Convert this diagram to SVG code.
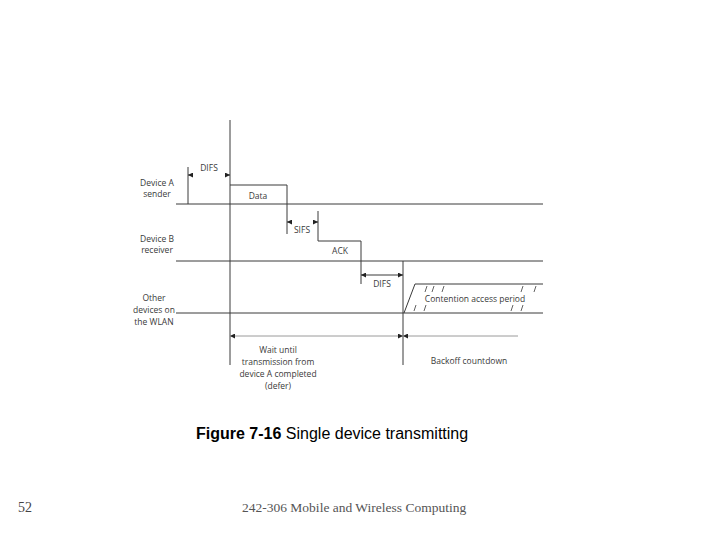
<svg xmlns="http://www.w3.org/2000/svg" width="720" height="540" viewBox="0 0 720 540">
<style>
.ln{stroke:#3a3a3a;stroke-width:1;fill:none}
.lt{stroke:#9a9a9a;stroke-width:1;fill:none}
.t{font-family:"Open Sans","DejaVu Sans",sans-serif;font-size:8.5px;fill:#3a3a3a;text-anchor:middle}
.h{stroke:#3a3a3a;stroke-width:0.8}
</style>
<defs>
<marker id="ah" viewBox="0 0 6 6" refX="6" refY="3" markerWidth="5" markerHeight="5" orient="auto-start-reverse">
<path d="M0,0 L6,3 L0,6 z" fill="#222"/>
</marker>
</defs>
<rect width="720" height="540" fill="#fff"/>
<g id="labels">
<text class="t" x="157" y="186">Device A</text>
<text class="t" x="157" y="197">sender</text>
<text class="t" x="157" y="242">Device B</text>
<text class="t" x="157" y="253">receiver</text>
<text class="t" x="154" y="301">Other</text>
<text class="t" x="154" y="313">devices on</text>
<text class="t" x="154" y="325">the WLAN</text>
</g>
<g id="timeline">
<line class="ln" x1="230" y1="120" x2="230" y2="365"/>
<line class="ln" x1="176" y1="204" x2="543" y2="204"/>
<line class="ln" x1="176" y1="261" x2="543" y2="261"/>
<line class="ln" x1="176" y1="313" x2="543" y2="313"/>
<line class="ln" x1="403" y1="261" x2="403" y2="365"/>
</g>
<g id="difs1">
<line class="ln" x1="188" y1="167" x2="188" y2="204"/>
<line class="ln" x1="188" y1="175" x2="193" y2="175" marker-start="url(#ah)"/>
<line class="ln" x1="225" y1="175" x2="230" y2="175" marker-end="url(#ah)"/>
<text class="t" x="209" y="171">DIFS</text>
</g>
<g id="data">
<polyline class="ln" points="230,185 287,185 287,234"/>
<text class="t" x="258" y="199">Data</text>
</g>
<g id="sifs">
<line class="ln" x1="318" y1="211" x2="318" y2="241"/>
<line class="ln" x1="287" y1="222" x2="292" y2="222" marker-start="url(#ah)"/>
<line class="ln" x1="313" y1="222" x2="318" y2="222" marker-end="url(#ah)"/>
<text class="t" x="302" y="233">SIFS</text>
</g>
<g id="ack">
<polyline class="ln" points="318,241 361,241 361,284"/>
<text class="t" x="340" y="254">ACK</text>
</g>
<g id="difs2">
<line class="ln" x1="361" y1="275" x2="403" y2="275" marker-start="url(#ah)" marker-end="url(#ah)"/>
<text class="t" x="382" y="287">DIFS</text>
</g>
<g id="contention">
<polyline class="ln" points="404,313 415,284 543,284"/>
<line class="h" x1="425" y1="292" x2="427" y2="286"/>
<line class="h" x1="432" y1="292" x2="434" y2="286"/>
<line class="h" x1="442" y1="292" x2="444" y2="286"/>
<line class="h" x1="521" y1="292" x2="523" y2="286"/>
<line class="h" x1="534" y1="292" x2="536" y2="286"/>
<line class="h" x1="414" y1="311" x2="416" y2="305"/>
<line class="h" x1="424" y1="311" x2="426" y2="305"/>
<line class="h" x1="511" y1="311" x2="513" y2="305"/>
<line class="h" x1="521" y1="311" x2="523" y2="305"/>
<text class="t" x="475" y="302">Contention access period</text>
</g>
<g id="wait">
<line class="lt" x1="230" y1="336" x2="403" y2="336" marker-start="url(#ah)" marker-end="url(#ah)"/>
<text class="t" x="278" y="353">Wait until</text>
<text class="t" x="278" y="365">transmission from</text>
<text class="t" x="278" y="377">device A completed</text>
<text class="t" x="278" y="389">(defer)</text>
</g>
<g id="backoff">
<line class="lt" x1="403" y1="336" x2="518" y2="336" marker-start="url(#ah)"/>
<text class="t" x="469" y="364">Backoff countdown</text>
</g>
<text x="196" y="439" font-family="Liberation Sans,Arial,sans-serif" font-size="16" fill="#000"><tspan font-weight="bold">Figure 7-16</tspan> Single device transmitting</text>
<text x="18" y="512" font-family="Liberation Serif,Times New Roman,serif" font-size="14" fill="#444">52</text>
<text x="242" y="512" font-family="Liberation Serif,Times New Roman,serif" font-size="13.5" fill="#555">242-306 Mobile and Wireless Computing</text>
</svg>
